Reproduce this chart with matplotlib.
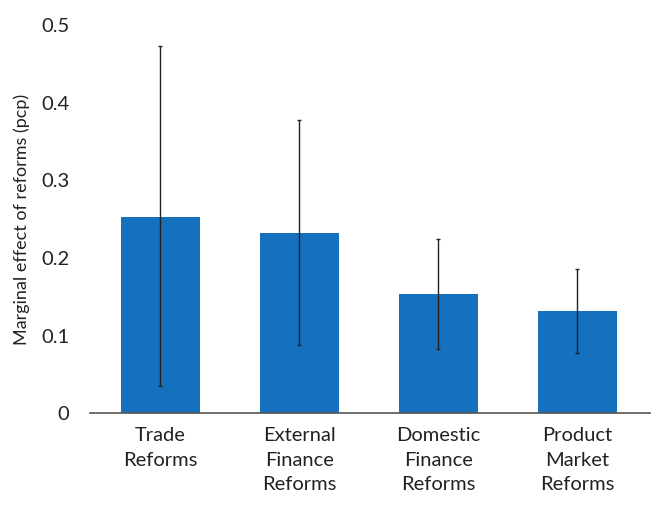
import matplotlib.pyplot as plt
import numpy as np

categories = ['Trade\nReforms', 'External\nFinance\nReforms',
              'Domestic\nFinance\nReforms', 'Product\nMarket\nReforms']
effects = [0.253, 0.232, 0.153, 0.131]
upper = [0.473, 0.378, 0.224, 0.186]
lower = [0.035, 0.088, 0.082, 0.077]

plt.rcParams['font.family'] = ['Lato', 'DejaVu Sans']

fig = plt.figure(figsize=(6.57, 5.05), dpi=100)
ax = fig.add_axes([0.137, 0.182, 0.852, 0.768])

x = np.arange(len(categories))
eff = np.array(effects)
yerr = [eff - np.array(lower), np.array(upper) - eff]
ax.bar(x, eff, width=0.57, color='#1570BE', zorder=2)
ax.errorbar(x, eff, yerr=yerr, fmt='none', ecolor='#222222',
            elinewidth=1.0, capsize=1.5, capthick=1.0, zorder=3)

ax.set_xlim(-0.505, 3.52)
ax.set_ylim(0, 0.5)
ax.set_yticks([0, 0.1, 0.2, 0.3, 0.4, 0.5])
ax.set_yticklabels(['0', '0.1', '0.2', '0.3', '0.4', '0.5'])
ax.set_xticks(x)
ax.set_xticklabels(categories, linespacing=1.55)
ax.tick_params(axis='both', length=0, labelsize=14.5, colors='#222222')
ax.tick_params(axis='y', pad=15)
ax.tick_params(axis='x', pad=10)
for s in ['top', 'right', 'left']:
    ax.spines[s].set_visible(False)
ax.spines['bottom'].set_color('#555555')
ax.spines['bottom'].set_linewidth(1.2)
ax.set_ylabel('Marginal effect of reforms (pcp)', fontsize=13, color='#222222', labelpad=8)

fig.savefig('out.png', dpi=100)
